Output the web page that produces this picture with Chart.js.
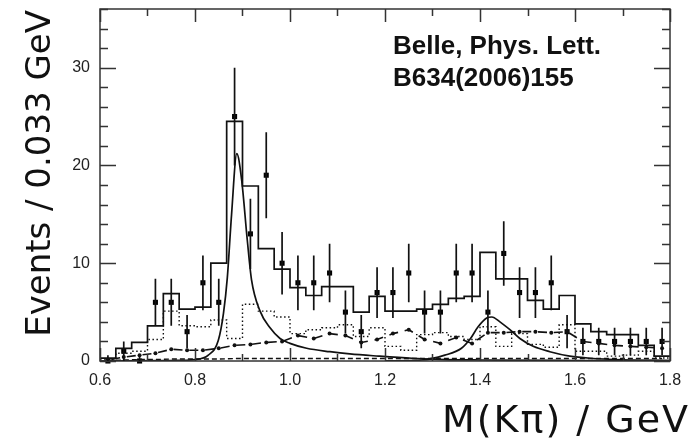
<!DOCTYPE html>
<html>
<head>
<meta charset="utf-8">
<script src="https://cdn.jsdelivr.net/npm/chart.js@4.4.0/dist/chart.umd.min.js"></script>
<style>
  html, body { margin: 0; padding: 0; background: #fff; }
  #chart { display: block; }
</style>
</head>
<body>
<canvas id="chart" width="695" height="446"></canvas>
<script>
// binning of the M(K pi) histogram
const binStart = 0.6;
const binCount = 36;
const binWidth = 1.2 / binCount;

// data points (events per bin) and their error bars
const counts = [0, 1, 0, 6, 6, 3, 8, 6, 25, 13, 19, 10, 8, 8, 9, 5, 3, 7, 7, 9, 5, 5, 9, 9, 5, 11, 7, 7, 8, 3, 2, 2, 2, 2, 2, 2];
const countErrors = [0.6, 1.0, 0.6, 2.4, 2.4, 1.7, 2.8, 2.4, 5.0, 3.6, 4.4, 3.2, 2.8, 2.8, 3.0, 2.2, 1.7, 2.6, 2.6, 3.0, 2.2, 2.2, 3.0, 3.0, 2.2, 3.3, 2.6, 2.6, 2.8, 1.7, 1.4, 1.4, 1.4, 1.4, 1.4, 1.4];

// total fit (solid histogram)
const fitTotal = [0.3, 1.3, 1.9, 3.6, 6.9, 5.3, 5.5, 10.0, 24.5, 17.9, 11.5, 9.4, 7.5, 6.7, 7.6, 7.6, 5.0, 6.6, 5.1, 5.1, 5.3, 5.8, 6.4, 6.6, 11.1, 8.4, 8.4, 6.2, 5.3, 6.7, 3.8, 3.0, 2.7, 2.7, 1.6, 0.5];
// dotted histogram component
const dottedPart = [0.2, 0.8, 1.0, 2.2, 5.1, 3.6, 3.5, 4.2, 2.3, 5.8, 5.1, 4.5, 2.8, 3.2, 3.4, 3.7, 2.5, 3.4, 1.5, 1.1, 2.7, 2.9, 2.5, 2.2, 3.5, 1.5, 2.8, 1.7, 1.4, 3.7, 1.0, 1.0, 0.5, 0.6, 1.0, 0.3];
// dash-dot component
const dashDotPart = [0.1, 0.4, 0.6, 0.8, 1.2, 1.1, 1.1, 1.3, 1.6, 1.7, 1.9, 2.0, 2.6, 2.3, 2.8, 2.6, 1.9, 2.2, 2.8, 3.2, 2.2, 1.8, 2.4, 1.8, 2.9, 2.9, 3.0, 3.0, 2.9, 3.0, 2.0, 1.8, 1.6, 1.5, 1.4, 1.3];
// short-dashed component near zero
const dashedPart = [0.05, 0.1, 0.15, 0.15, 0.2, 0.2, 0.2, 0.2, 0.25, 0.25, 0.25, 0.25, 0.25, 0.25, 0.25, 0.25, 0.25, 0.25, 0.25, 0.25, 0.25, 0.25, 0.25, 0.25, 0.25, 0.25, 0.25, 0.25, 0.25, 0.25, 0.25, 0.25, 0.25, 0.25, 0.25, 0.25];

// K*(892) and K2*(1430) line shapes  [mass, events]
const kstarCurve = [[0.6, 0.0], [0.75, 0.05], [0.8, 0.15], [0.828, 0.6], [0.849, 2.1], [0.86, 4.9], [0.868, 8.5], [0.877, 15.0], [0.888, 21.2], [0.898, 18.6], [0.91, 12.4], [0.919, 8.3], [0.937, 5.1], [0.958, 3.4], [0.979, 2.3], [1.0, 1.8], [1.035, 1.3], [1.084, 0.95], [1.126, 0.72], [1.186, 0.5], [1.257, 0.28], [1.326, 0.15], [1.4, 0.1], [1.6, 0.05], [1.8, 0.03]];
const k2Curve = [[1.2, 0.02], [1.277, 0.1], [1.326, 0.6], [1.361, 1.3], [1.38, 2.3], [1.396, 3.5], [1.414, 4.4], [1.425, 4.5], [1.442, 4.0], [1.463, 3.2], [1.484, 2.3], [1.512, 1.5], [1.547, 0.95], [1.589, 0.5], [1.632, 0.28], [1.7, 0.12], [1.8, 0.05]];

const xTicks = [0.6, 0.8, 1.0, 1.2, 1.4, 1.6, 1.8];
const yTicks = [0, 10, 20, 30];
const xMinorStep = 0.1;
const yMinorStep = 2;

const binCenters = counts.map((_, i) => binStart + (i + 0.5) * binWidth);

function stepPoints(values) {
    let pts = values.map((v, i) => ({x: binStart + i * binWidth, y: v}));
    pts.push({x: binStart + values.length * binWidth, y: values[values.length - 1]});
    return pts;
}
function centerPoints(values) {
    return values.map((v, i) => ({x: binCenters[i], y: v}));
}

const ink = '#111';

// frame with inward ticks, like the original plot
const framePlugin = {
    id: 'frame',
    afterDatasetsDraw(chart) {
        const ctx = chart.ctx;
        const a = chart.chartArea;
        const xs = chart.scales.x, ys = chart.scales.y;
        ctx.save();
        ctx.strokeStyle = '#333';
        ctx.lineWidth = 1.5;
        ctx.strokeRect(a.left, a.top, a.right - a.left, a.bottom - a.top);
        ctx.beginPath();
        for (let v = 0.6; v <= 1.8001; v += xMinorStep) {
            const major = Math.abs(Math.round(v * 10) % 2) === 0;
            const len = major ? 13 : 7;
            const px = Math.round(xs.getPixelForValue(v)) + 0.5;
            ctx.moveTo(px, a.top); ctx.lineTo(px, a.top + len);
            ctx.moveTo(px, a.bottom); ctx.lineTo(px, a.bottom - len);
        }
        for (let v = 0; v <= 36; v += yMinorStep) {
            const len = (v % 10 === 0) ? 16 : 8;
            const py = Math.round(ys.getPixelForValue(v)) + 0.5;
            ctx.moveTo(a.left, py); ctx.lineTo(a.left + len, py);
            ctx.moveTo(a.right, py); ctx.lineTo(a.right - len, py);
        }
        ctx.stroke();

        // error bars on the data points
        ctx.strokeStyle = ink;
        ctx.lineWidth = 1.7;
        ctx.beginPath();
        counts.forEach((c, i) => {
            const px = xs.getPixelForValue(binCenters[i]);
            ctx.moveTo(px, ys.getPixelForValue(Math.max(0, c - countErrors[i])));
            ctx.lineTo(px, ys.getPixelForValue(c + countErrors[i]));
        });
        ctx.stroke();
        ctx.restore();
    },
    afterDraw(chart) {
        const ctx = chart.ctx;
        ctx.save();
        ctx.fillStyle = '#111';
        // y axis title
        ctx.save();
        ctx.translate(50, 10);
        ctx.rotate(-Math.PI / 2);
        ctx.font = "34px 'DejaVu Sans'";
        ctx.textAlign = 'right';
        ctx.textBaseline = 'alphabetic';
        ctx.fillText('Events / 0.033 GeV', 0, 0);
        ctx.restore();
        // x axis title
        ctx.font = "38px 'DejaVu Sans'";
        ctx.letterSpacing = '2px';
        ctx.textAlign = 'right';
        ctx.textBaseline = 'alphabetic';
        ctx.fillText('M(K\u03c0) / GeV', 690, 432);
        ctx.letterSpacing = '0px';
        // reference note
        ctx.font = "bold 26px 'Liberation Sans'";
        ctx.textAlign = 'left';
        ctx.fillText('Belle, Phys. Lett.', 393, 54);
        ctx.fillText('B634(2006)155', 393, 86);
        ctx.restore();
    }
};

const ctx = document.getElementById('chart').getContext('2d');
const chart = new Chart(ctx, {
    type: 'line',
    data: {
        datasets: [
            {
                label: 'fit',
                data: stepPoints(fitTotal),
                stepped: 'before',
                borderColor: ink,
                borderWidth: 1.7,
                pointRadius: 0
            },
            {
                label: 'dotted',
                data: stepPoints(dottedPart),
                stepped: 'before',
                borderColor: ink,
                borderWidth: 1.4,
                borderDash: [1.5, 2.5],
                pointRadius: 0
            },
            {
                label: 'dash-dot',
                data: centerPoints(dashDotPart),
                borderColor: ink,
                borderWidth: 1.6,
                borderDash: [9, 6.8],
                borderDashOffset: -3.4,
                pointRadius: 2,
                pointBorderWidth: 0,
                pointBackgroundColor: ink
            },
            {
                label: 'dashed',
                data: centerPoints(dashedPart),
                borderColor: ink,
                borderWidth: 1.4,
                borderDash: [5, 3],
                pointRadius: 0
            },
            {
                label: 'K*(892)',
                data: kstarCurve.map(p => ({x: p[0], y: p[1]})),
                borderColor: ink,
                borderWidth: 1.7,
                cubicInterpolationMode: 'monotone',
                pointRadius: 0
            },
            {
                label: 'K2*(1430)',
                data: k2Curve.map(p => ({x: p[0], y: p[1]})),
                borderColor: ink,
                borderWidth: 1.7,
                cubicInterpolationMode: 'monotone',
                pointRadius: 0
            },
            {
                label: 'data',
                data: centerPoints(counts),
                showLine: false,
                pointStyle: 'rect',
                pointRadius: 3.6,
                pointBorderWidth: 0,
                pointBackgroundColor: '#000',
                clip: false
            }
        ]
    },
    options: {
        responsive: false,
        animation: false,
        layout: { padding: { top: 9, right: 25, left: 0, bottom: 0 } },
        plugins: { legend: { display: false }, tooltip: { enabled: false } },
        scales: {
            x: {
                type: 'linear',
                min: 0.6,
                max: 1.8,
                afterBuildTicks: (s) => { s.ticks = xTicks.map(v => ({value: v})); },
                afterFit: (s) => { s.height = 85; },
                grid: { display: false, drawTicks: false },
                border: { display: false },
                ticks: {
                    padding: 10,
                    maxRotation: 0,
                    color: '#222',
                    font: { family: 'Liberation Sans', size: 16 },
                    callback: (v) => Number(v).toFixed(1)
                }
            },
            y: {
                min: 0,
                max: 36,
                afterBuildTicks: (s) => { s.ticks = yTicks.map(v => ({value: v})); },
                afterFit: (s) => { s.width = 100; s.paddingTop = 0; s.paddingBottom = 0; },
                grid: { display: false, drawTicks: false },
                border: { display: false },
                ticks: {
                    padding: 10,
                    color: '#222',
                    font: { family: 'Liberation Sans', size: 16 }
                }
            }
        }
    },
    plugins: [framePlugin]
});
</script>
</body>
</html>
